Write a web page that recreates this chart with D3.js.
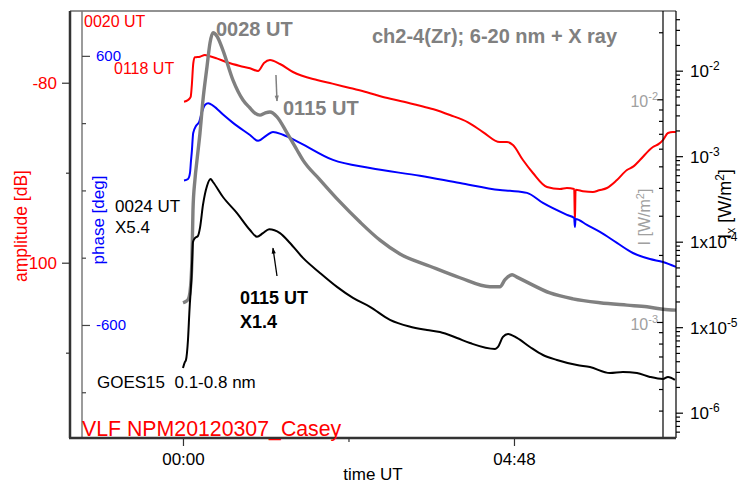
<!DOCTYPE html>
<html>
<head>
<meta charset="utf-8">
<script src="https://cdn.jsdelivr.net/npm/d3@7"></script>
<style>
  html, body { margin: 0; padding: 0; background: #ffffff; }
  svg { display: block; font-family: "Liberation Sans", Arial, Helvetica, sans-serif; }
</style>
</head>
<body>
<svg id="chart" width="741" height="483"></svg>
<script>
// ---- Data: time in minutes after 00:00 UT, 7 March 2012 ----

// VLF NPM amplitude received at Casey [dB]
const ampTime = [0.9, 4.4, 6.7, 7.6, 9.0, 10.4, 14.8, 19.1, 22.0, 29.3, 38.3, 49.6, 58.3, 65.3, 70.5, 75.7,
  84.4, 95.7, 116.6, 130.0, 145.3, 160.0, 174.0, 190.0, 203.6, 218.0, 232.3, 248.0, 261.0, 275.7, 281.9, 287.1,
  295.8, 304.5, 316.7, 328.0, 334.0, 340.4, 341.0, 341.6, 348.0, 356.7, 362.0, 368.9, 377.6, 386.3, 392.0,
  397.6, 408.9, 414.0, 417.6, 422.0, 426.3, 428.9];
const ampDb = [-82.11, -81.92, -81.56, -80.44, -77.81, -77.18, -77.11, -76.92, -77.00, -77.29, -77.73, -78.14,
  -78.40, -78.70, -77.81, -77.48, -77.92, -78.81, -79.70, -80.10, -80.59, -81.05, -81.59, -82.05, -82.48, -82.95,
  -83.59, -84.40, -85.48, -86.59, -86.59, -86.92, -88.59, -90.03, -91.59, -91.81, -91.70, -91.81, -95.50, -91.90,
  -92.05, -92.14, -91.95, -91.70, -90.81, -89.70, -89.30, -88.59, -87.14, -86.80, -86.37, -85.59, -85.48, -85.48];

// VLF NPM phase [deg]
const phaseTime = [0.9, 4.4, 6.1, 7.0, 7.6, 8.9, 11.3, 14.2, 16.3, 19.1, 22.0, 26.4, 35.1, 43.8, 58.3, 65.3,
  73.1, 78.3, 87.0, 101.8, 130.5, 162.7, 206.2, 241.0, 275.8, 284.5, 299.3, 313.2, 334.1, 340.4, 341.0, 341.6,
  351.5, 362.8, 377.6, 391.5, 406.3, 417.6, 428.9];
const phaseDeg = [44, 51, 78, 134, 167, 256, 287, 307, 346, 381, 389, 377, 337, 300, 247, 221,
  247, 261, 248, 212, 136, 100, 65, 33, 2, -2, -11, -56, -109, -123, -163, -127,
  -154, -185, -234, -279, -306, -319, -341];

// EUV flux, ch2-4 (Zr) 6-20 nm [W/m^2]
const euvTime = [0.0, 1.7, 4.4, 6.1, 7.8, 8.7, 10.4, 12.2, 14.8, 17.4, 20.9, 23.5, 26.1, 29.6, 34.8, 43.5,
  52.2, 58.3, 62.6, 67.0, 71.3, 75.7, 81.8, 90.5, 99.2, 104.4, 119.2, 136.6, 154.0, 171.4, 188.8, 214.9,
  241.0, 267.1, 275.8, 280.2, 286.3, 290.6, 299.3, 319.3, 339.3, 362.8, 386.3, 403.7, 417.6, 428.9];
const euvFlux = [1.22e-3, 1.23e-3, 1.26e-3, 1.36e-3, 1.90e-3, 3.18e-3, 4.35e-3, 5.33e-3, 7.06e-3, 9.93e-3,
  1.40e-2, 1.79e-2, 1.99e-2, 1.92e-2, 1.66e-2, 1.22e-2, 9.93e-3, 9.14e-3, 8.67e-3, 8.49e-3, 8.67e-3, 8.77e-3,
  8.34e-3, 7.06e-3, 5.92e-3, 5.33e-3, 4.35e-3, 3.46e-3, 2.81e-3, 2.33e-3, 2.02e-3, 1.78e-3, 1.58e-3, 1.44e-3,
  1.44e-3, 1.55e-3, 1.63e-3, 1.59e-3, 1.51e-3, 1.35e-3, 1.27e-3, 1.22e-3, 1.19e-3, 1.17e-3, 1.14e-3, 1.13e-3];

// GOES15 X-ray flux, 0.1-0.8 nm [W/m^2]
const goesTime = [0.0, 1.7, 2.6, 4.35, 5.66, 7.4, 8.7, 10.4, 13.05, 14.8, 17.4, 20.9, 24.0, 26.1, 34.8, 47.0,
  58.3, 64.4, 69.6, 75.0, 84.4, 93.1, 104.4, 119.2, 134.0, 147.9, 162.7, 180.1, 197.0, 212.3, 223.6, 238.4,
  249.7, 271.5, 274.1, 278.4, 282.8, 290.6, 301.9, 313.2, 325.4, 342.8, 354.1, 371.5, 382.8, 395.0, 406.3,
  417.6, 422.0, 428.0];
const goesFlux = [3.33e-6, 3.92e-6, 4.13e-6, 7.08e-6, 1.59e-5, 3.86e-5, 9.91e-5, 1.10e-4, 1.17e-4, 1.45e-4,
  2.69e-4, 4.48e-4, 5.4e-4, 4.99e-4, 3.33e-4, 2.16e-4, 1.37e-4, 1.14e-4, 1.26e-4, 1.4e-4, 1.26e-4, 9.66e-5,
  6.46e-5, 4.31e-5, 2.96e-5, 2.20e-5, 1.73e-5, 1.22e-5, 1.02e-5, 9.29e-6, 8.79e-6, 7.48e-6, 6.53e-6, 5.56e-6,
  5.87e-6, 7.69e-6, 8.34e-6, 7.48e-6, 5.87e-6, 4.73e-6, 4.14e-6, 3.61e-6, 3.42e-6, 2.91e-6, 2.99e-6, 2.91e-6,
  2.62e-6, 2.48e-6, 2.62e-6, 2.42e-6];

// ---- Axis ticks ----
const timeTicks = [0, 288];
const timeTickLabels = ["00:00", "04:48"];
const timeMinorTicks = [144];
const ampTicks = [-80, -100];
const ampMinorTicks = [-90, -110];
const phaseTicks = [600, -600];
const phaseMinorTicks = [300, 0, -300, -900];
const euvDecades = [-2, -3];
const goesDecades = [-2, -3, -4, -5, -6];
const goesDecadePrefix = ["", "", "1x", "1x", ""];

// ---- Layout ----
const svg = d3.select("#chart");
const plotL = 70, plotR = 676, plotT = 11, plotB = 438;
const phaseAxisX = 82, euvAxisX = 663, goesAxisX = 676;
const FONT = 17;

const x = d3.scaleLinear().domain([-98.3, 428.1]).range([plotL, 675]);
const yAmp = d3.scaleLinear().domain([-119.48, -72.03]).range([plotB, plotT]);
const yPhase = d3.scaleLinear().domain([-1104, 800]).range([plotB, plotT]);
const yEuv = d3.scaleLog().domain([Math.pow(10, -3.521), Math.pow(10, -1.6035)]).range([plotB, plotT]);
const yGoes = d3.scaleLog().domain([Math.pow(10, -6.296), Math.pow(10, -1.302)]).range([plotB, plotT]);

function logTicks(scale, mults) {
  const [lo, hi] = scale.domain();
  const out = [];
  for (let e = Math.floor(Math.log10(lo)); e <= Math.ceil(Math.log10(hi)); e++) {
    for (const m of mults) {
      const v = m * Math.pow(10, e);
      if (v >= lo && v <= hi) out.push(v);
    }
  }
  return out;
}

function clean(g, color) {
  g.select(".domain").remove();
  g.selectAll(".tick line").attr("stroke", color).attr("stroke-width", 1.2);
  return g;
}

// ---- Curves ----
const curve = d3.curveMonotoneX;
function drawSeries(times, values, yScale, color, width) {
  const pts = times.map((t, i) => [t, values[i]]);
  svg.append("path")
    .datum(pts)
    .attr("fill", "none")
    .attr("stroke", color)
    .attr("stroke-width", width)
    .attr("stroke-linejoin", "round")
    .attr("d", d3.line().x(d => x(d[0])).y(d => yScale(d[1])).curve(curve));
}

drawSeries(ampTime, ampDb, yAmp, "#ff0000", 2);
drawSeries(phaseTime, phaseDeg, yPhase, "#0000ff", 2);
drawSeries(euvTime, euvFlux, yEuv, "#808080", 3.4);
drawSeries(goesTime, goesFlux, yGoes, "#000000", 2);

// ---- Frame ----
function vline(xp, color, w) {
  svg.append("line").attr("x1", xp).attr("x2", xp).attr("y1", plotT).attr("y2", plotB)
    .attr("stroke", color).attr("stroke-width", w);
}
svg.append("line").attr("x1", plotL).attr("x2", plotR).attr("y1", plotT).attr("y2", plotT)
  .attr("stroke", "#6e6e6e").attr("stroke-width", 1.5);
vline(phaseAxisX, "#7a7a7a", 1.5);
vline(euvAxisX, "#000", 1.2);
vline(goesAxisX, "#000", 1.2);
vline(plotL, "#333", 2.5);
svg.append("line").attr("x1", plotL - 1).attr("x2", plotR).attr("y1", plotB).attr("y2", plotB)
  .attr("stroke", "#333").attr("stroke-width", 2.5);

// ---- Time axis ----
const gx = svg.append("g").attr("transform", `translate(0,${plotB})`)
  .call(d3.axisBottom(x).tickValues(timeTicks).tickSize(8).tickPadding(7)
    .tickFormat((d, i) => timeTickLabels[i]));
clean(gx, "#333");
gx.selectAll("text").attr("font-size", FONT).attr("fill", "#000").attr("font-family", null);
clean(svg.append("g").attr("transform", `translate(0,${plotB})`)
  .call(d3.axisBottom(x).tickValues(timeMinorTicks).tickSize(4).tickFormat("")), "#333");
svg.append("text").attr("x", 373).attr("y", 480).attr("text-anchor", "middle")
  .attr("font-size", FONT).text("time UT");

// ---- Amplitude axis (left, red) ----
const ga = svg.append("g").attr("transform", `translate(${plotL},0)`)
  .call(d3.axisLeft(yAmp).tickValues(ampTicks).tickSize(8).tickPadding(5).tickFormat(d => String(d)));
clean(ga, "#333");
ga.selectAll("text").attr("font-size", FONT).attr("fill", "#ff0000").attr("font-family", null);
clean(svg.append("g").attr("transform", `translate(${plotL},0)`)
  .call(d3.axisLeft(yAmp).tickValues(ampMinorTicks).tickSize(4).tickFormat("")), "#333");
svg.append("text").attr("transform", "translate(27,226) rotate(-90)").attr("text-anchor", "middle")
  .attr("font-size", 17.5).attr("fill", "#ff0000").text("amplitude [dB]");

// ---- Phase axis (inner left, blue) ----
const gp = svg.append("g").attr("transform", `translate(${phaseAxisX},0)`)
  .call(d3.axisRight(yPhase).tickValues(phaseTicks).tickSize(8).tickPadding(6).tickFormat(d => String(d)));
clean(gp, "#444");
gp.selectAll("text").attr("font-size", 15).attr("fill", "#0000ff").attr("font-family", null);
clean(svg.append("g").attr("transform", `translate(${phaseAxisX},0)`)
  .call(d3.axisRight(yPhase).tickValues(phaseMinorTicks).tickSize(4).tickFormat("")), "#444");
svg.append("text").attr("transform", "translate(104,220) rotate(-90)").attr("text-anchor", "middle")
  .attr("font-size", FONT).attr("fill", "#0000ff").text("phase [deg]");

// ---- EUV flux axis (inner right, grey) ----
const euvMajor = euvDecades.map(e => Math.pow(10, e));
clean(svg.append("g").attr("transform", `translate(${euvAxisX},0)`)
  .call(d3.axisLeft(yEuv).tickValues(euvMajor).tickSize(6).tickFormat("")), "#000");
clean(svg.append("g").attr("transform", `translate(${euvAxisX},0)`)
  .call(d3.axisLeft(yEuv).tickValues(logTicks(yEuv, [2, 3, 4, 5, 6, 7, 8, 9])).tickSize(4).tickFormat("")), "#000");
euvDecades.forEach(e => {
  const t = svg.append("text").attr("x", euvAxisX - 5).attr("y", yEuv(Math.pow(10, e)) + 8)
    .attr("text-anchor", "end").attr("font-size", 16).attr("fill", "#a0a0a0");
  t.append("tspan").text("10");
  t.append("tspan").attr("dy", -7).attr("font-size", 11).text(String(e));
});
{
  const t = svg.append("text").attr("transform", "translate(650,217) rotate(-90)")
    .attr("text-anchor", "middle").attr("font-size", 16).attr("fill", "#a0a0a0");
  t.append("tspan").text("I [W/m");
  t.append("tspan").attr("dy", -6).attr("font-size", 11).text("2");
  t.append("tspan").attr("dy", 6).text("]");
}

// ---- GOES flux axis (outer right, black) ----
const goesMajor = goesDecades.map(e => Math.pow(10, e));
clean(svg.append("g").attr("transform", `translate(${goesAxisX},0)`)
  .call(d3.axisRight(yGoes).tickValues(goesMajor).tickSize(7).tickFormat("")), "#000");
clean(svg.append("g").attr("transform", `translate(${goesAxisX},0)`)
  .call(d3.axisRight(yGoes).tickValues(logTicks(yGoes, [2, 3, 4, 5, 6, 7, 8, 9])).tickSize(4).tickFormat("")), "#000");
goesDecades.forEach((e, i) => {
  const t = svg.append("text").attr("x", 690).attr("y", yGoes(Math.pow(10, e)) + 6.5)
    .attr("font-size", FONT).attr("fill", "#000");
  t.append("tspan").text(goesDecadePrefix[i] + "10");
  t.append("tspan").attr("dy", -7).attr("font-size", 12).text(String(e));
});
{
  const t = svg.append("text").attr("transform", "translate(731,204) rotate(-90)")
    .attr("text-anchor", "middle").attr("font-size", 18).attr("fill", "#000");
  t.append("tspan").text("I");
  t.append("tspan").attr("dy", 4).attr("font-size", 12).text("x");
  t.append("tspan").attr("dy", -4).text(" [W/m");
  t.append("tspan").attr("dy", -7).attr("font-size", 12).text("2");
  t.append("tspan").attr("dy", 7).text("]");
}

// ---- Annotations ----
function label(xp, yp, txt, size, color, bold) {
  svg.append("text").attr("x", xp).attr("y", yp).attr("font-size", size).attr("fill", color)
    .attr("font-weight", bold ? "bold" : "normal")
    .style("white-space", "pre").text(txt);
}
label(84, 27, "0020 UT", 16, "#ff0000");
label(114, 74, "0118 UT", 16, "#ff0000");
label(216, 36, "0028 UT", 20, "#808080", true);
label(283, 115, "0115 UT", 20, "#808080", true);
label(372, 43, "ch2-4(Zr); 6-20 nm + X ray", 20, "#808080", true);
label(115, 212, "0024 UT", 17, "#000");
label(115, 233, "X5.4", 17, "#000");
label(240, 304, "0115 UT", 18, "#000", true);
label(240, 328, "X1.4", 18, "#000", true);
label(97, 388, "GOES15  0.1-0.8 nm", 17, "#000");
label(82, 436, "VLF NPM20120307_Casey", 21.3, "#ff0000");

// arrows marking the 0115 UT maxima
const defs = svg.append("defs");
[["headGrey", "#808080"], ["headBlack", "#000"]].forEach(([id, c]) => {
  defs.append("marker").attr("id", id).attr("viewBox", "0 0 10 10").attr("refX", 9).attr("refY", 5)
    .attr("markerWidth", 7).attr("markerHeight", 6).attr("orient", "auto").attr("markerUnits", "userSpaceOnUse")
    .append("path").attr("d", "M0,1.5 L10,5 L0,8.5 Z").attr("fill", c);
});
svg.append("line")
  .attr("x1", x(80.9)).attr("y1", yEuv(1.285e-2)).attr("x2", x(81.8)).attr("y2", yEuv(9.83e-3))
  .attr("stroke", "#808080").attr("stroke-width", 1.5).attr("marker-end", "url(#headGrey)");
svg.append("line")
  .attr("x1", x(81.8)).attr("y1", yGoes(3.97e-5)).attr("x2", x(78.3)).attr("y2", yGoes(8.4e-5))
  .attr("stroke", "#000").attr("stroke-width", 1.3).attr("marker-end", "url(#headBlack)");
</script>
</body>
</html>
